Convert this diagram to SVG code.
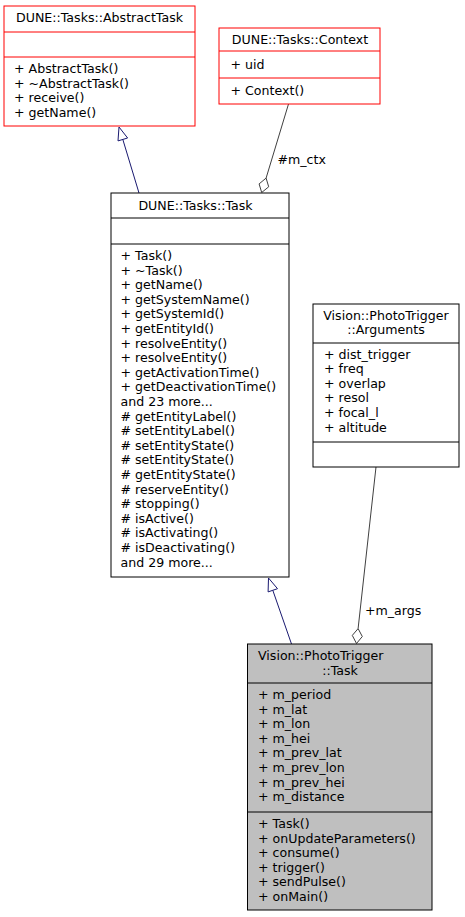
<svg xmlns="http://www.w3.org/2000/svg" width="465" height="917" viewBox="0 0 465 917">
<style>
text{font-family:"DejaVu Sans","Liberation Sans",sans-serif;font-size:12.6px;fill:#000}
.mid{text-anchor:middle}
.red rect,.red line{stroke:#ff0000;stroke-width:1;fill:#fff}
.blk rect,.blk line{stroke:#000;stroke-width:1;fill:#fff}
.root rect{fill:#bfbfbf}
.inh{stroke:#191970;fill:none;stroke-width:1}
.inhh{stroke:#191970;fill:#fff;stroke-width:1}
.cmp{stroke:#404040;fill:none;stroke-width:1}
.cmph{stroke:#404040;fill:#fff;stroke-width:1}
</style>
<rect width="465" height="917" fill="#fff"/>
<g id="connectors">
<path class="inh" d="M139,193 L122.8,139.4"/>
<polygon class="inhh" points="119,127 127.6,138 118,140.9"/>
<path class="inh" d="M291.5,644 L272.8,590.3"/>
<polygon class="inhh" points="268.5,578 277.5,588.7 268.1,591.9"/>
<path class="cmp" d="M288.5,104 L266.1,178.1"/>
<polygon class="cmph" points="261.7,192.5 268.7,186.8 266.1,178.1 259.1,183.9"/>
<text x="277.5" y="163.5">#m_ctx</text>
<path class="cmp" d="M376,467 L358.1,628.6"/>
<polygon class="cmph" points="356.5,643.5 362.3,636.5 358.1,628.6 352.3,635.4"/>
<text x="365" y="614.5">+m_args</text>
</g>
<g id="AbstractTask" class="red">
<rect x="4" y="6" width="191" height="120"/>
<line x1="4" y1="32" x2="195" y2="32"/>
<line x1="4" y1="57" x2="195" y2="57"/>
<text class="mid" x="99.5" y="22">DUNE::Tasks::AbstractTask</text>
<text x="14" y="73">+ AbstractTask()</text>
<text x="14" y="87.6">+ ~AbstractTask()</text>
<text x="14" y="102.2">+ receive()</text>
<text x="14" y="116.8">+ getName()</text>
</g>
<g id="Context" class="red">
<rect x="219" y="28" width="161" height="76"/>
<line x1="219" y1="51" x2="380" y2="51"/>
<line x1="219" y1="78" x2="380" y2="78"/>
<text class="mid" x="300" y="44">DUNE::Tasks::Context</text>
<text x="230.5" y="68.5">+ uid</text>
<text x="230.5" y="95">+ Context()</text>
</g>
<g id="Task" class="blk">
<rect x="111" y="193" width="178" height="384"/>
<line x1="111" y1="218" x2="289" y2="218"/>
<line x1="111" y1="244" x2="289" y2="244"/>
<text class="mid" x="195.5" y="210">DUNE::Tasks::Task</text>
<text x="120.5" y="260">+ Task()</text>
<text x="120.5" y="274.6">+ ~Task()</text>
<text x="120.5" y="289.2">+ getName()</text>
<text x="120.5" y="303.8">+ getSystemName()</text>
<text x="120.5" y="318.4">+ getSystemId()</text>
<text x="120.5" y="333">+ getEntityId()</text>
<text x="120.5" y="347.6">+ resolveEntity()</text>
<text x="120.5" y="362.2">+ resolveEntity()</text>
<text x="120.5" y="376.8">+ getActivationTime()</text>
<text x="120.5" y="391.4">+ getDeactivationTime()</text>
<text x="120.5" y="406">and 23 more...</text>
<text x="120.5" y="420.6"># getEntityLabel()</text>
<text x="120.5" y="435.2"># setEntityLabel()</text>
<text x="120.5" y="449.8"># setEntityState()</text>
<text x="120.5" y="464.4"># setEntityState()</text>
<text x="120.5" y="479"># getEntityState()</text>
<text x="120.5" y="493.6"># reserveEntity()</text>
<text x="120.5" y="508.2"># stopping()</text>
<text x="120.5" y="522.8"># isActive()</text>
<text x="120.5" y="537.4"># isActivating()</text>
<text x="120.5" y="552"># isDeactivating()</text>
<text x="120.5" y="566.6">and 29 more...</text>
</g>
<g id="Arguments" class="blk">
<rect x="313" y="304" width="146" height="163"/>
<line x1="313" y1="343" x2="459" y2="343"/>
<line x1="313" y1="442" x2="459" y2="442"/>
<text class="mid" x="386" y="319.5">Vision::PhotoTrigger</text>
<text class="mid" x="386" y="334">::Arguments</text>
<text x="324" y="358.5">+ dist_trigger</text>
<text x="324" y="373.1">+ freq</text>
<text x="324" y="387.7">+ overlap</text>
<text x="324" y="402.3">+ resol</text>
<text x="324" y="416.9">+ focal_l</text>
<text x="324" y="431.5">+ altitude</text>
</g>
<g id="PhotoTriggerTask" class="blk root">
<rect x="247.5" y="644" width="184.5" height="266"/>
<line x1="247.5" y1="683" x2="432" y2="683"/>
<line x1="247.5" y1="812" x2="432" y2="812"/>
<text x="258" y="660">Vision::PhotoTrigger</text>
<text class="mid" x="340" y="674.6">::Task</text>
<text x="258" y="699">+ m_period</text>
<text x="258" y="713.6">+ m_lat</text>
<text x="258" y="728.2">+ m_lon</text>
<text x="258" y="742.8">+ m_hei</text>
<text x="258" y="757.4">+ m_prev_lat</text>
<text x="258" y="772">+ m_prev_lon</text>
<text x="258" y="786.6">+ m_prev_hei</text>
<text x="258" y="801.2">+ m_distance</text>
<text x="258" y="828">+ Task()</text>
<text x="258" y="842.6">+ onUpdateParameters()</text>
<text x="258" y="857.2">+ consume()</text>
<text x="258" y="871.8">+ trigger()</text>
<text x="258" y="886.4">+ sendPulse()</text>
<text x="258" y="901">+ onMain()</text>
</g>
</svg>
